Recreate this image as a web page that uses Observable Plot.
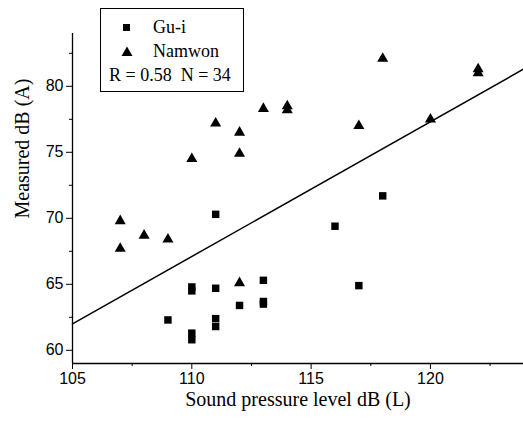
<!DOCTYPE html>
<html>
<head>
<meta charset="utf-8">
<script src="https://cdn.jsdelivr.net/npm/d3@7"></script>
<script src="https://cdn.jsdelivr.net/npm/@observablehq/plot@0.6"></script>
<style>
  html, body { margin: 0; padding: 0; background: #fff; }
  #wrap { position: relative; width: 523px; height: 423px; }
  #legend {
    position: absolute; left: 100px; top: 8px; width: 144px; height: 84px;
    border: 1px solid #000; box-sizing: border-box; background: #fff;
    font-family: "Liberation Serif", serif; font-size: 18px; line-height: 20px; color: #000;
  }
  #legend .row { position: absolute; left: 0; white-space: nowrap; }
  #legend svg { position: absolute; }
</style>
</head>
<body>
<div id="wrap">
  <div id="chart"></div>
  <div id="legend">
    <svg style="left:21px;top:14px" width="10" height="10"><rect x="1" y="1" width="7" height="7" fill="#000"/></svg>
    <div class="row" style="left:52px;top:8px">Gu-i</div>
    <svg style="left:20px;top:37px" width="12" height="11"><polygon points="6,0.5 11.5,10 0.5,10" fill="#000"/></svg>
    <div class="row" style="left:52px;top:32px">Namwon</div>
    <div class="row" style="left:8px;top:56px">R = 0.58&nbsp; N = 34</div>
  </div>
</div>
<script>
// Gu-i (squares)
const guiX = [109, 110, 110, 110, 110, 111, 111, 111, 111, 112, 113, 113, 113, 116, 117, 118];
const guiY = [62.3, 64.8, 64.5, 61.3, 60.8, 70.3, 64.7, 62.4, 61.8, 63.4, 65.3, 63.7, 63.5, 69.4, 64.9, 71.7];
// Namwon (triangles)
const namX = [107, 107, 108, 109, 110, 111, 112, 112, 112, 113, 114, 114, 117, 118, 120, 122, 122];
const namY = [69.8, 67.7, 68.7, 68.4, 74.5, 77.2, 76.5, 74.9, 65.1, 78.3, 78.5, 78.2, 77.0, 82.1, 77.5, 81.3, 81.0];
// Regression line endpoints
const fitX = [105, 123.9];
const fitY = [62.0, 81.3];
// Ticks
const xTicks = [105, 110, 115, 120];
const xMinor = [107.5, 112.5, 117.5, 122.5];
const yTicks = [60, 65, 70, 75, 80];
const yMinor = [62.5, 67.5, 72.5, 77.5, 82.5];

const gui = guiX.map((x, i) => ({x, y: guiY[i]}));
const nam = namX.map((x, i) => ({x, y: namY[i]}));
const fit = fitX.map((x, i) => ({x, y: fitY[i]}));

const chart = Plot.plot({
  width: 523,
  height: 423,
  marginLeft: 72,
  marginRight: 0,
  marginTop: 33,
  marginBottom: 60,
  style: {fontFamily: "Liberation Sans, Arial, sans-serif", fontSize: "16px", color: "#000", background: "#fff"},
  x: {domain: [105, 123.9], axis: null},
  y: {domain: [59, 84], axis: null},
  marks: [
    Plot.ruleX([105], {stroke: "#000", strokeWidth: 1.3}),
    Plot.ruleY([59], {stroke: "#000", strokeWidth: 1.3}),
    Plot.axisX({ticks: xTicks, tickSize: 6, tickPadding: 3, stroke: "#000", fontSize: 16, label: null, anchor: "bottom"}),
    Plot.axisX({ticks: xMinor, tickSize: 3, text: null, stroke: "#000", label: null, anchor: "bottom"}),
    Plot.axisY({ticks: yTicks, tickSize: 6, tickPadding: 3, stroke: "#000", fontSize: 16, label: null, anchor: "left"}),
    Plot.axisY({ticks: yMinor, tickSize: 3, text: null, stroke: "#000", label: null, anchor: "left"}),
    Plot.line(fit, {x: "x", y: "y", stroke: "#000", strokeWidth: 1.5}),
    Plot.dot(gui, {x: "x", y: "y", symbol: "square", r: 4.2, fill: "#000", stroke: "none"}),
    Plot.dot(nam, {x: "x", y: "y", symbol: "triangle", r: 4.1, fill: "#000", stroke: "none"}),
    Plot.text(["Sound pressure level dB (L)"], {frameAnchor: "bottom", dy: 42, fontFamily: "Liberation Serif, serif", fontSize: 20, fill: "#000"}),
    Plot.text(["Measured dB (A)"], {frameAnchor: "left", dx: -50, dy: 20, rotate: -90, fontFamily: "Liberation Serif, serif", fontSize: 20, fill: "#000"})
  ]
});
document.getElementById("chart").appendChild(chart);
</script>
</body>
</html>
